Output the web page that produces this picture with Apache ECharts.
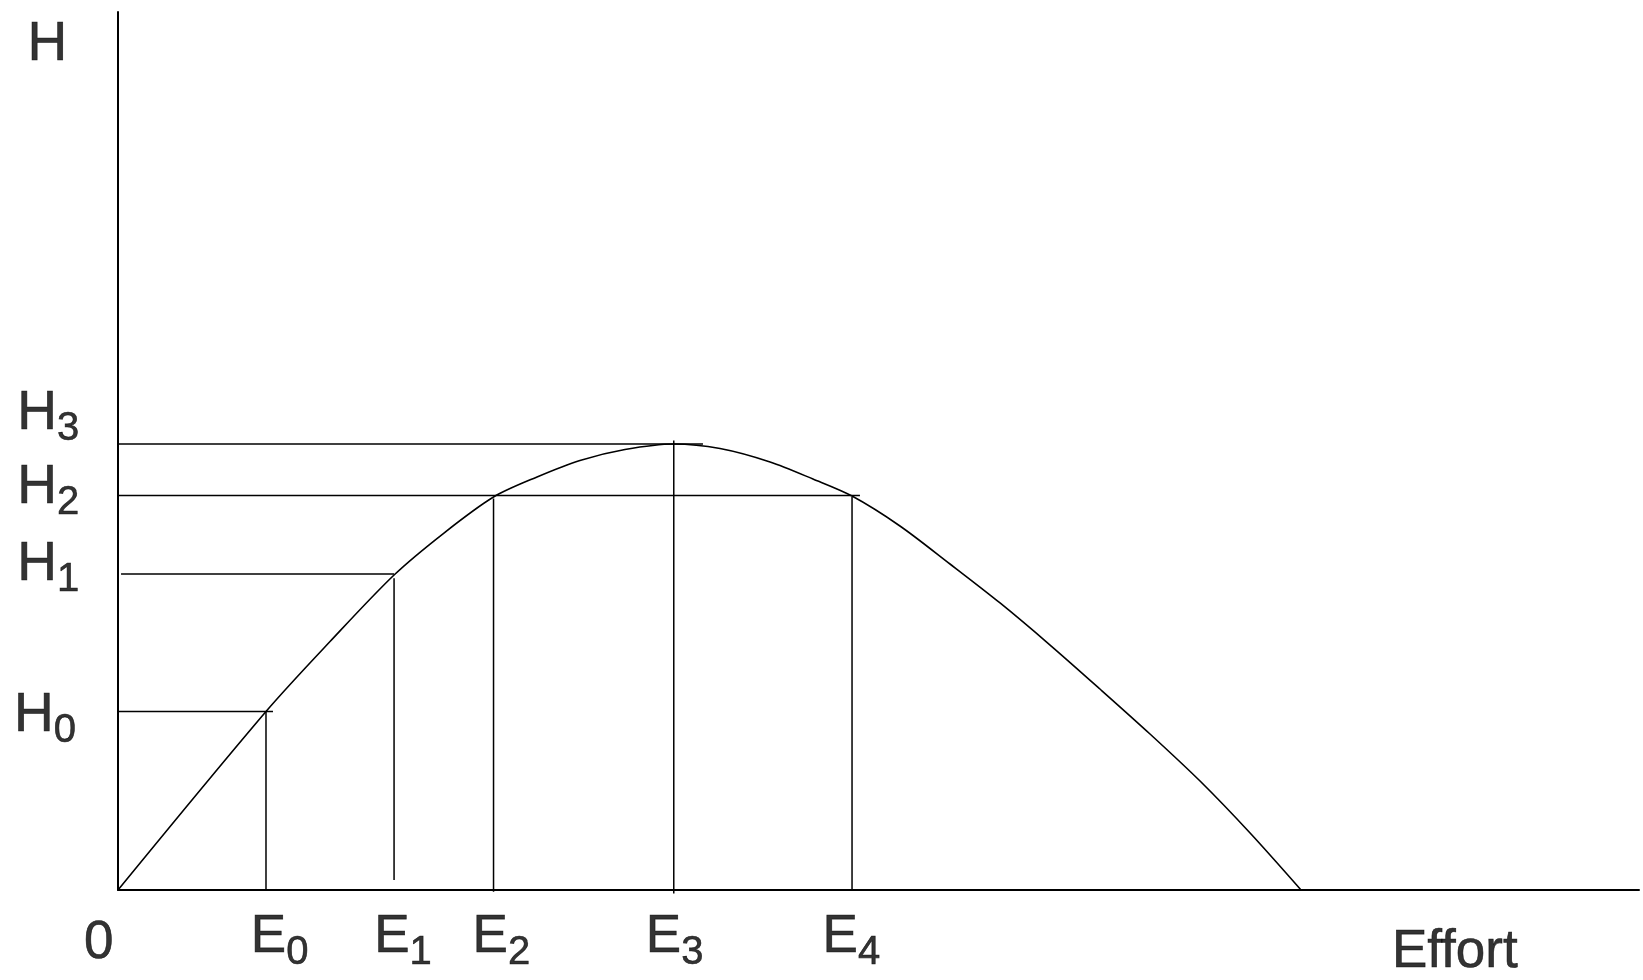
<!DOCTYPE html>
<html>
<head>
<meta charset="utf-8">
<title>Effort / H</title>
<script src="https://cdn.jsdelivr.net/npm/echarts@6/dist/echarts.min.js"></script>
<style>
  html, body { margin: 0; padding: 0; background: #fff; }
  #chart { width: 1643px; height: 980px; }
</style>
</head>
<body>
<div id="chart"></div>
<script>
// curve (effort, H)
const curveEffort = [0, 9.73, 13.94, 18.15, 21.43, 24.69, 27.55, 30.37, 33.33, 36.54, 39.58, 42.87, 45.69, 48.26, 51.41, 54.70, 57.99, 61.28, 64.56, 67.85, 71.14, 74.43, 77.78];
const curveHarvest = [0, 20.33, 28.30, 35.88, 40.66, 44.76, 47.04, 48.92, 50.17, 50.80, 50.28, 48.75, 46.81, 44.87, 41.46, 37.13, 32.69, 27.90, 22.89, 17.77, 12.41, 6.49, 0];

// marked levels
const effortMarks = [9.73, 18.15, 24.69, 36.54, 48.26]; // E0..E4
const effortSubs = ["0", "1", "2", "3", "4"];
const harvestMarks = [20.33, 35.99, 44.92, 50.80]; // H0..H3
const harvestSubs = ["0", "1", "2", "3"];

// guide segments: horizontal ones at harvestMarks, vertical ones at effortMarks
const hGuideFrom = [0, 0.2, 0, 0];
const hGuideTo = [10.19, 18.15, 48.78, 38.46];
const eGuideFrom = [0, 1.14, -0.2, -0.4, 0];
const eGuideTo = [20.33, 35.5, 44.6, 51.2, 44.76];

const axisMax = 100;
const axisName = { x: "Effort", y: "H", origin: "0" };

// label nudges (px) – style only
const font = "'Liberation Sans', Arial, sans-serif";
const hLabelNudge = [[-104, -23.4], [-100.7, -36.9], [-100.7, -35.2], [-100.7, -57.9]];
const eLabelNudge = [[-15.2, 21.1], [-19.9, 21.1], [-21, 21.1], [-27.9, 21.1], [-29.5, 21.1]];

const chart = echarts.init(document.getElementById("chart"), null, { renderer: "canvas" });

const black = "#000";
const guideStyle = { color: black, width: 1.5 };

// thin outline so the glyphs come out as dark as in the source
const ink = { fontFamily: font, color: black, textBorderColor: black, textBorderWidth: 0.6 };
const richH = {
  m: Object.assign({ fontSize: 55, lineHeight: 55, verticalAlign: "top" }, ink),
  s: Object.assign({ fontSize: 40, lineHeight: 86, verticalAlign: "middle" }, ink)
};
const richE = {
  m: Object.assign({ fontSize: 53, lineHeight: 53, verticalAlign: "top" }, ink),
  s: Object.assign({ fontSize: 40, lineHeight: 83, verticalAlign: "middle" }, ink)
};

function segment(from, to) {
  return {
    type: "line",
    data: [from, to],
    showSymbol: false,
    symbol: "none",
    silent: true,
    clip: false,
    animation: false,
    lineStyle: guideStyle
  };
}

const guides = [];
harvestMarks.forEach((h, i) => {
  guides.push(segment([hGuideFrom[i], h], [hGuideTo[i], h]));
});
effortMarks.forEach((e, i) => {
  guides.push(segment([e, eGuideFrom[i]], [e, eGuideTo[i]]));
});

const labelSeries = {
  type: "scatter",
  symbolSize: 0,
  silent: true,
  clip: false,
  animation: false,
  itemStyle: { color: "transparent" },
  data: [],
  label: { show: true, align: "left", verticalAlign: "top", color: black }
};

harvestMarks.forEach((h, i) => {
  labelSeries.data.push({
    value: [0, h],
    label: {
      position: hLabelNudge[i],
      formatter: `{m|H}{s|${harvestSubs[i]}}`,
      rich: richH
    }
  });
});
effortMarks.forEach((e, i) => {
  labelSeries.data.push({
    value: [e, 0],
    label: {
      position: eLabelNudge[i],
      formatter: `{m|E}{s|${effortSubs[i]}}`,
      rich: richE
    }
  });
});
labelSeries.data.push({
  value: [0, axisMax],
  label: { position: [-90.6, 5.4], formatter: `{m|${axisName.y}}`, rich: richH }
});
labelSeries.data.push({
  value: [0, 0],
  label: { position: [-34, 27.1], formatter: `{m|${axisName.origin}}`, rich: richE }
});
labelSeries.data.push({
  value: [axisMax, 0],
  label: { position: [-247, 36.1], formatter: `{m|${axisName.x}}`, rich: richE }
});

const axisCommon = {
  type: "value",
  min: 0,
  max: axisMax,
  axisLine: { show: true, onZero: false, lineStyle: { color: black, width: 2 } },
  axisTick: { show: false },
  axisLabel: { show: false },
  splitLine: { show: false }
};

const option = {
  backgroundColor: "#fff",
  animation: false,
  grid: { left: 118, right: 4, top: 12, bottom: 90 },
  xAxis: Object.assign({}, axisCommon),
  yAxis: Object.assign({}, axisCommon),
  series: [
    {
      type: "line",
      data: curveEffort.map((e, i) => [e, curveHarvest[i]]),
      smooth: 0.3,
      showSymbol: false,
      symbol: "none",
      silent: true,
      lineStyle: { color: black, width: 1.6 }
    }
  ].concat(guides, [labelSeries])
};

chart.setOption(option);
</script>
</body>
</html>
